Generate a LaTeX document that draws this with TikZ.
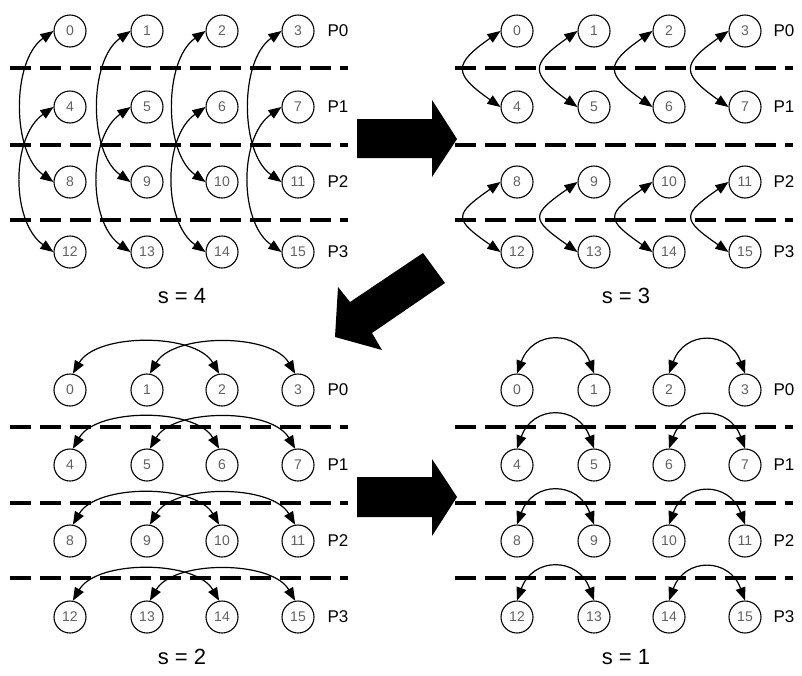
\documentclass[tikz,border=0pt]{standalone}
\usepackage{fontspec}
\setmainfont{Liberation Sans}
\usetikzlibrary{arrows.meta}
\begin{document}
\begin{tikzpicture}[x=1pt,y=1pt,
  proc/.style={circle,draw,line width=1.1pt,fill=white,minimum size=32pt,inner sep=0pt,
    font=\fontsize{14}{14}\selectfont,text=black!62},
  plabel/.style={font=\fontsize{17}{17}\selectfont},
  slabel/.style={font=\fontsize{22}{22}\selectfont},
  divider/.style={line width=3.5pt,dash pattern=on 21pt off 9pt},
  xchg/.style={line width=1.2pt,{Triangle[length=13pt,width=10pt]}-{Triangle[length=13pt,width=10pt]}},
  bigarrow/.style={fill=black}
]
\useasboundingbox (0,0) rectangle (802,-675);

% ---------- dividers between processes ----------
\foreach \y in {68,145,220,427,503,578} {
  \draw[divider] (10,-\y) -- (348,-\y);
  \draw[divider] (455,-\y) -- (793,-\y);
}

% ---------- four panels of 16 elements ----------
\foreach \y [count=\r from 0] in {31,107,182,252} {
  \foreach \x [count=\c from 0] in {70,147,222,298} {
    \pgfmathtruncatemacro\n{4*\r+\c}
    \node[proc] (a\n) at (\x,-\y) {\n};
    \node[proc] (b\n) at (\x+447,-\y) {\n};
  }
}
\foreach \y [count=\r from 0] in {390,465,541,617} {
  \foreach \x [count=\c from 0] in {70,147,222,298} {
    \pgfmathtruncatemacro\n{4*\r+\c}
    \node[proc] (c\n) at (\x,-\y) {\n};
    \node[proc] (d\n) at (\x+447,-\y) {\n};
  }
}

% ---------- process labels ----------
\foreach \y [count=\r from 0] in {31,107,182,252} {
  \node[plabel] (pa\r) at (338,-\y) {P\r};
  \node[plabel] (pb\r) at (784,-\y) {P\r};
}
\foreach \y [count=\r from 0] in {390,465,541,617} {
  \node[plabel] (pc\r) at (338,-\y) {P\r};
  \node[plabel] (pd\r) at (784,-\y) {P\r};
}

% ---------- stage labels ----------
\node[slabel] (s4) at (182,-296) {s = 4};
\node[slabel] (s3) at (626,-296) {s = 3};
\node[slabel] (s2) at (182,-657) {s = 2};
\node[slabel] (s1) at (626,-657) {s = 1};

% ---------- s = 4 : distance 8 ----------
\foreach \c in {0,...,3} {
  \pgfmathtruncatemacro\m{\c+8}
  \pgfmathtruncatemacro\u{\c+4}
  \pgfmathtruncatemacro\v{\c+12}
  \draw[xchg] (a\c.west) to[out=215,in=145,looseness=0.87] (a\m.west);
  \draw[xchg] (a\u.west) to[out=215,in=145,looseness=0.92] (a\v.west);
}

% ---------- s = 3 : distance 4 ----------
\foreach \c in {0,...,3} {
  \pgfmathtruncatemacro\m{\c+4}
  \pgfmathtruncatemacro\u{\c+8}
  \pgfmathtruncatemacro\v{\c+12}
  \draw[xchg] (b\c.west) to[out=215,in=145,looseness=1.95] (b\m.west);
  \draw[xchg] (b\u.west) to[out=215,in=145,looseness=2.1] (b\v.west);
}

% ---------- s = 2 : distance 2 ----------
\foreach \r in {0,...,3} {
  \pgfmathtruncatemacro\i{4*\r}
  \pgfmathtruncatemacro\j{4*\r+1}
  \pgfmathtruncatemacro\k{4*\r+2}
  \pgfmathtruncatemacro\l{4*\r+3}
  \draw[xchg] (c\i.80) to[out=60,in=120,looseness=0.83] (c\k.100);
  \draw[xchg] (c\j.80) to[out=60,in=120,looseness=0.83] (c\l.100);
}

% ---------- s = 1 : distance 1 ----------
\foreach \r in {0,...,3} {
  \pgfmathtruncatemacro\i{4*\r}
  \pgfmathtruncatemacro\j{4*\r+1}
  \pgfmathtruncatemacro\k{4*\r+2}
  \pgfmathtruncatemacro\l{4*\r+3}
  \draw[xchg] (d\i.north) to[out=70,in=110,looseness=1.55] (d\j.north);
  \draw[xchg] (d\k.north) to[out=70,in=110,looseness=1.55] (d\l.north);
}

% ---------- block arrows between stages ----------
\fill[bigarrow] (357,-119) -- (432,-119) -- (432,-100) -- (457,-139)
  -- (432,-177) -- (432,-158) -- (357,-158) -- cycle;
\fill[bigarrow] (423,-253) -- (445,-283) -- (372,-333) -- (382,-350)
  -- (335,-337) -- (338,-287) -- (350,-302) -- cycle;
\fill[bigarrow] (357,-477) -- (432,-477) -- (432,-459) -- (457,-497)
  -- (432,-536) -- (432,-517) -- (357,-517) -- cycle;
\end{tikzpicture}
\end{document}
